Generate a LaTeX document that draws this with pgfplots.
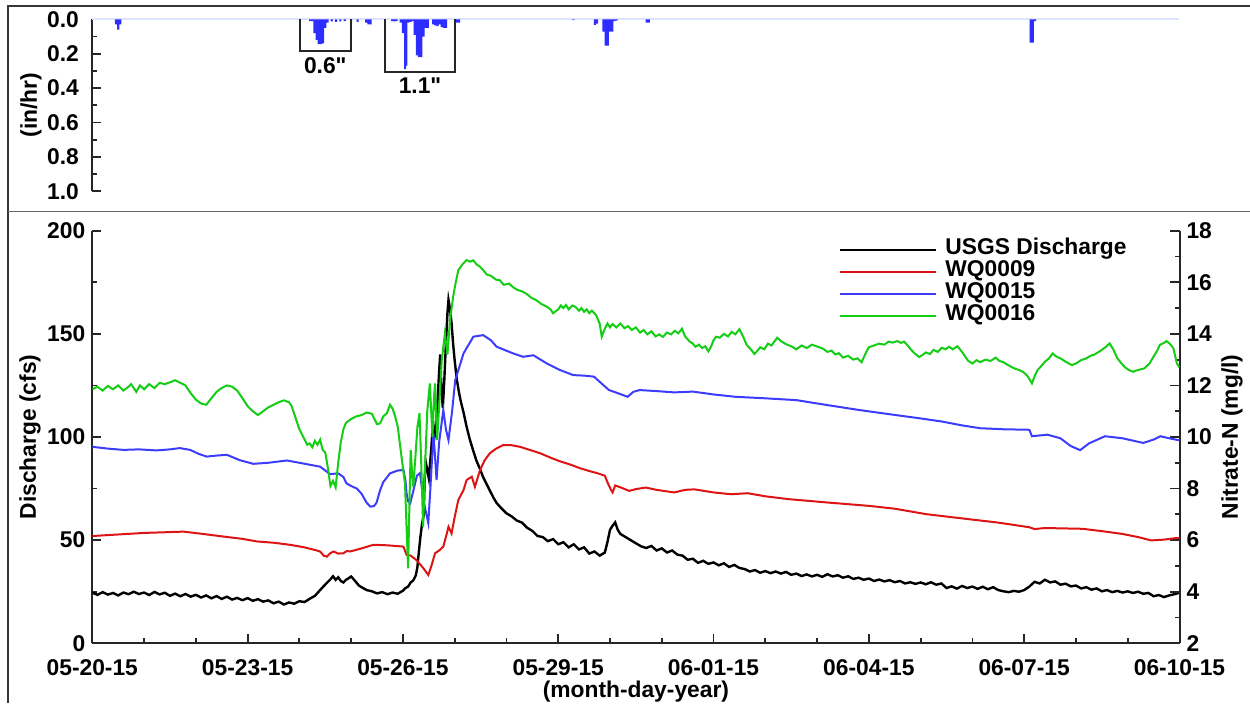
\documentclass[border=0pt]{standalone}
\usepackage{fontspec}
\setmainfont{Liberation Sans}
\newfontfamily\qf{Liberation Sans}[Ligatures=TeXOff]
\usepackage{pgfplots}
\pgfplotsset{compat=1.18}

\definecolor{nred}{RGB}{222,20,20}
\definecolor{nblue}{RGB}{60,60,255}
\definecolor{ngreen}{RGB}{20,205,20}
\definecolor{rainblue}{RGB}{45,45,255}
\definecolor{zeroline}{RGB}{222,228,255}
\definecolor{framegray}{RGB}{55,55,55}
\definecolor{sepgray}{RGB}{105,105,105}

\newcommand\lf{\fontsize{11.4}{13.7}\selectfont\bfseries}

\pgfplotsset{
  base/.style={
    scale only axis, width=543.6pt, xmin=0, xmax=21,
    tick align=inside, major tick length=4.5pt, minor tick length=2.5pt,
    every tick/.style={line width=0.9pt, color=black!85},
    axis line style={line width=1pt, color=black!85},
    tick label style={font=\lf},
    label style={font=\lf},
    /pgf/number format/assume math mode=true,
  }
}

\begin{document}
\begin{tikzpicture}
\useasboundingbox (0,0) rectangle (625pt,351.5pt);
% page frame and panel separator
\draw[framegray, line width=1pt] (3.85pt,0pt) -- (3.85pt,348.5pt) -- (625pt,348.5pt);
\draw[sepgray, line width=0.8pt] (3.85pt,245.65pt) -- (625pt,245.65pt);

% ---------------- rainfall panel ----------------
\begin{axis}[base, at={(46.15pt,255.85pt)}, anchor=south west, height=86pt,
  ymin=0, ymax=1, y dir=reverse, ytick={0,0.2,...,1.0}, minor y tick num=1,
  yticklabel style={/pgf/number format/fixed, /pgf/number format/fixed zerofill,
    /pgf/number format/precision=1, xshift=-3.2pt},
  axis x line=none, axis y line*=left,
  ylabel={(in/hr)},
  ylabel style={at={(axis description cs:-0.0564,0.5)}, anchor=center},
  clip=false]
\addplot[zeroline, line width=1pt] coordinates {(0,0) (21,0)};
\addplot[ybar, bar width=0.0417, bar shift=0pt, fill=rainblue, draw=none] coordinates {
 (0.458,0.03) (0.500,0.06) (0.542,0.03)
 (4.208,0.01) (4.250,0.01) (4.292,0.08) (4.333,0.12) (4.375,0.144) (4.417,0.144)
 (4.458,0.14) (4.500,0.05) (4.542,0.02) (4.625,0.012) (4.708,0.015) (4.792,0.012)
 (4.875,0.01) (5.000,0.01) (5.125,0.015) (5.292,0.02) (5.333,0.03) (5.375,0.03)
 (5.792,0.01) (5.833,0.012) (5.875,0.01) (5.958,0.02) (6.000,0.08) (6.042,0.29)
 (6.063,0.27) (6.104,0.02) (6.146,0.015) (6.188,0.01) (6.229,0.09) (6.271,0.21)
 (6.313,0.22) (6.354,0.22) (6.396,0.10) (6.438,0.05) (6.479,0.05) (6.583,0.03)
 (6.625,0.035) (6.667,0.04) (6.708,0.03) (6.750,0.045) (6.792,0.05) (6.833,0.05)
 (7.042,0.02) (7.083,0.02)
 (9.292,0.005) (9.708,0.033) (9.750,0.025) (9.875,0.072) (9.917,0.153) (9.958,0.153)
 (10.000,0.072) (10.042,0.072) (10.083,0.01) (10.125,0.008) (10.708,0.02) (10.750,0.02)
 (18.125,0.135) (18.167,0.135) (18.208,0.01)
};
\draw[black!85, line width=1pt] (axis cs:4.01,0) |- (axis cs:4.99,0.183) -- (axis cs:4.99,0);
\draw[black!85, line width=1pt] (axis cs:5.655,0) |- (axis cs:7.0,0.305) -- (axis cs:7.0,0);
\node[font=\lf\qf] at (axis cs:4.5,0.268) {0.6"};
\node[font=\lf\qf] at (axis cs:6.33,0.385) {1.1"};
\end{axis}

% ---------------- discharge (left axis) ----------------
\begin{axis}[base, at={(46.15pt,29.85pt)}, anchor=south west, height=206.3pt,
  ymin=0, ymax=200, ytick={0,50,...,200}, minor y tick num=1,
  xtick={0,3,...,21},
  xticklabels={05-20-15,05-23-15,05-26-15,05-29-15,06-01-15,06-04-15,06-07-15,06-10-15},
  minor x tick num=2,
  xticklabel style={yshift=-4.5pt},
  axis x line*=bottom, axis y line*=left,
  xlabel={(month-day-year)}, ylabel={Discharge (cfs)},
  xlabel style={at={(axis description cs:0.5,-0.118)}, anchor=center},
  ylabel style={at={(axis description cs:-0.0573,0.5)}, anchor=center}]
\addplot[black, line width=1.2pt] coordinates {
 (0.0,24.5) (0.1,23.5) (0.2,24.8) (0.3,23.6) (0.4,24.4) (0.5,23.2) (0.6,24.6) (0.7,23.8)
 (0.8,25.0) (0.9,23.9) (1.0,24.6) (1.1,23.4) (1.2,24.9) (1.3,23.7) (1.4,24.5) (1.5,23.0)
 (1.6,24.1) (1.7,22.8) (1.8,23.9) (1.9,22.6) (2.0,23.5) (2.1,22.2) (2.2,23.2) (2.3,21.8)
 (2.4,22.9) (2.5,21.5) (2.6,22.6) (2.7,21.2) (2.8,22.0) (2.9,20.9) (3.0,21.9) (3.1,20.6)
 (3.2,21.4) (3.3,20.2) (3.4,20.8) (3.5,19.4) (3.6,20.2) (3.7,18.8) (3.8,19.8) (3.9,19.2)
 (4.0,20.4) (4.1,20.0) (4.2,21.6) (4.3,23.0) (4.4,25.8) (4.5,28.5) (4.6,31.0) (4.65,32.5)
 (4.7,30.8) (4.75,32.0) (4.8,30.2) (4.85,29.5) (4.9,30.8) (4.95,31.5) (5.0,32.4) (5.05,31.0)
 (5.1,29.5) (5.15,28.0) (5.2,27.2) (5.3,25.8) (5.4,25.2) (5.5,24.2) (5.6,24.8) (5.7,23.8)
 (5.8,24.6) (5.9,24.0) (6.0,25.5) (6.05,26.8) (6.1,27.5) (6.15,29.5) (6.2,30.5) (6.25,33.0)
 (6.28,37.0) (6.31,45.0) (6.34,52.0) (6.37,58.0) (6.40,62.0) (6.42,80.0) (6.44,88.0)
 (6.47,84.0) (6.50,80.0) (6.52,86.0) (6.55,95.0) (6.58,108.0) (6.61,100.0) (6.64,104.0)
 (6.67,118.0) (6.70,132.0) (6.72,140.0) (6.74,126.0) (6.77,114.0) (6.80,128.0) (6.83,145.0)
 (6.86,160.0) (6.88,166.5) (6.91,162.0) (6.94,155.0) (6.97,145.0) (7.00,137.0) (7.04,128.0)
 (7.08,122.0) (7.12,117.0) (7.17,112.0) (7.23,105.0) (7.29,99.0) (7.35,94.0) (7.42,88.5)
 (7.48,85.0) (7.55,80.5) (7.62,77.0) (7.68,74.0) (7.75,70.5) (7.81,68.0) (7.9,65.5)
 (8.0,63.0) (8.1,61.5) (8.2,59.5) (8.3,58.5) (8.4,56.0) (8.5,54.5) (8.6,52.0) (8.7,51.5)
 (8.8,49.5) (8.9,50.5) (9.0,48.0) (9.1,49.0) (9.2,46.5) (9.3,48.0) (9.4,45.5) (9.5,46.5)
 (9.6,43.5) (9.7,44.5) (9.8,42.5) (9.9,44.0) (9.95,49.0) (10.0,55.0) (10.05,57.0)
 (10.1,58.6) (10.15,55.0) (10.2,53.0) (10.3,51.5) (10.4,50.0) (10.5,48.5) (10.6,47.0)
 (10.7,46.2) (10.8,47.2) (10.9,45.0) (11.0,46.0) (11.1,44.0) (11.2,45.0) (11.3,43.0)
 (11.4,42.5) (11.5,40.5) (11.6,41.0) (11.7,39.0) (11.8,40.0) (11.9,38.5) (12.0,39.2)
 (12.1,37.8) (12.2,38.8) (12.3,37.0) (12.4,38.0) (12.5,36.5) (12.6,36.0) (12.7,34.8)
 (12.8,35.5) (12.9,34.2) (13.0,35.0) (13.1,34.0) (13.2,34.8) (13.3,33.8) (13.4,34.6)
 (13.5,33.2) (13.6,33.8) (13.7,32.6) (13.8,33.4) (13.9,32.4) (14.0,33.2) (14.1,32.2)
 (14.2,33.5) (14.3,32.4) (14.4,33.0) (14.5,31.8) (14.6,32.5) (14.7,31.2) (14.8,31.8)
 (14.9,30.8) (15.0,31.4) (15.1,30.2) (15.2,30.9) (15.3,30.0) (15.4,30.6) (15.5,29.6)
 (15.6,30.2) (15.7,29.0) (15.8,29.6) (15.9,28.8) (16.0,29.5) (16.1,28.6) (16.2,29.6)
 (16.3,28.4) (16.4,29.0) (16.5,26.8) (16.6,27.6) (16.7,26.5) (16.8,27.8) (16.9,26.8)
 (17.0,27.5) (17.1,26.4) (17.2,27.4) (17.3,26.2) (17.4,27.2) (17.5,25.8) (17.6,25.2)
 (17.7,24.8) (17.8,25.4) (17.9,25.0) (18.0,25.8) (18.1,27.5) (18.2,29.8) (18.3,29.0)
 (18.4,30.8) (18.5,29.5) (18.6,30.0) (18.7,28.4) (18.8,28.9) (18.9,27.6) (19.0,28.0)
 (19.1,26.6) (19.2,27.2) (19.3,26.0) (19.4,26.6) (19.5,25.2) (19.6,25.8) (19.7,24.8)
 (19.8,25.4) (19.9,24.6) (20.0,25.2) (20.1,24.4) (20.2,25.0) (20.3,24.0) (20.4,24.4)
 (20.5,22.8) (20.6,23.4) (20.7,22.4) (20.8,23.2) (20.9,23.8) (21.0,24.5)
};
\end{axis}

% ---------------- nitrate (right axis) ----------------
\begin{axis}[base, at={(46.15pt,29.85pt)}, anchor=south west, height=206.3pt,
  ymin=2, ymax=18, ytick={2,4,...,18}, minor y tick num=1,
  axis x line=none, axis y line*=right,
  ylabel={Nitrate-N (mg/l)},
  ylabel style={at={(axis description cs:1.0483,0.5)}, anchor=center},
  legend cell align=left,
  legend image code/.code={\draw[#1] (0pt,0pt) -- (48pt,0pt); \path (52pt,0pt);},
  legend style={at={(axis description cs:0.6868,0.982)}, anchor=north west,
    draw=none, fill=none, inner sep=0pt, font=\lf,
    nodes={inner sep=0pt, text height=8.2pt, text depth=2.8pt},
    /tikz/every even column/.append style={column sep=6pt}}]
\addlegendimage{black, line width=1pt}
\addlegendentry{USGS Discharge}
\addplot[nred, line width=1pt] coordinates {
 (0.0,6.16) (0.5,6.22) (1.0,6.28) (1.76,6.33) (2.1,6.25) (2.53,6.14) (2.9,6.05) (3.18,5.95)
 (3.5,5.9) (3.82,5.82) (4.1,5.72) (4.3,5.62) (4.40,5.56) (4.47,5.4) (4.53,5.36) (4.6,5.5)
 (4.66,5.56) (4.75,5.48) (4.85,5.49) (4.92,5.58) (4.98,5.56) (5.2,5.68) (5.43,5.82)
 (5.7,5.8) (6.01,5.75) (6.07,5.43) (6.15,5.4) (6.26,5.23) (6.38,4.95) (6.49,4.65)
 (6.55,5.0) (6.62,5.49) (6.7,5.6) (6.78,5.75) (6.84,6.2) (6.88,6.52) (6.94,6.26) (7.0,6.9)
 (7.07,7.56) (7.17,7.94) (7.23,8.33) (7.33,8.46) (7.39,8.07) (7.49,8.72) (7.58,9.1)
 (7.68,9.37) (7.8,9.55) (7.94,9.69) (8.1,9.68) (8.26,9.62) (8.45,9.5) (8.65,9.37)
 (8.85,9.2) (9.03,9.06) (9.25,8.92) (9.42,8.79) (9.6,8.68) (9.75,8.6) (9.9,8.5)
 (9.96,8.2) (10.02,7.95) (10.05,7.85) (10.1,8.12) (10.2,8.05) (10.37,7.91) (10.5,7.98)
 (10.69,8.04) (10.9,7.95) (11.24,7.85) (11.45,7.95) (11.63,7.97) (12.0,7.85) (12.34,7.78)
 (12.66,7.82) (13.0,7.7) (13.45,7.59) (14.2,7.46) (15.0,7.33) (15.5,7.22) (16.1,7.01)
 (16.9,6.82) (17.5,6.68) (18.1,6.5) (18.2,6.43) (18.4,6.47) (19.13,6.44) (19.5,6.35)
 (19.9,6.24) (20.2,6.12) (20.45,5.99) (20.7,6.02) (20.93,6.08) (21.0,6.08)
};
\addlegendentry{WQ0009}
\addplot[nblue, line width=1pt] coordinates {
 (0.0,9.62) (0.3,9.55) (0.6,9.5) (0.9,9.52) (1.24,9.48) (1.5,9.52) (1.69,9.57) (1.89,9.5)
 (2.05,9.35) (2.21,9.24) (2.4,9.28) (2.6,9.31) (2.85,9.1) (3.11,8.96) (3.4,9.0) (3.6,9.05)
 (3.76,9.09) (4.0,9.0) (4.21,8.92) (4.40,8.85) (4.5,8.7) (4.59,8.56) (4.75,8.59) (4.85,8.45)
 (4.91,8.2) (5.0,8.1) (5.11,8.0) (5.2,7.8) (5.3,7.45) (5.37,7.3) (5.44,7.32) (5.49,7.45)
 (5.56,7.94) (5.62,8.25) (5.75,8.59) (5.9,8.7) (6.01,8.72) (6.05,8.3) (6.07,7.82) (6.10,7.5)
 (6.14,7.43) (6.2,7.9) (6.27,8.5) (6.33,8.6) (6.40,7.5) (6.49,6.66) (6.53,8.0) (6.59,10.14)
 (6.65,8.33) (6.70,9.8) (6.78,11.05) (6.83,10.3) (6.88,9.88) (6.95,11.0) (7.01,12.2)
 (7.17,13.24) (7.36,13.89) (7.55,13.95) (7.7,13.75) (7.81,13.5) (8.13,13.24) (8.32,13.11)
 (8.52,13.17) (8.78,12.85) (9.03,12.6) (9.29,12.4) (9.5,12.38) (9.69,12.34) (9.85,12.05)
 (9.98,11.82) (10.15,11.7) (10.34,11.56) (10.45,11.75) (10.57,11.82) (10.9,11.78)
 (11.24,11.73) (11.6,11.76) (12.0,11.65) (12.42,11.56) (13.0,11.5) (13.6,11.43)
 (14.19,11.24) (14.8,11.05) (15.52,10.85) (16.0,10.72) (16.41,10.6) (16.8,10.45)
 (17.15,10.34) (17.6,10.3) (18.1,10.28) (18.15,10.03) (18.3,10.06) (18.45,10.09)
 (18.7,9.95) (18.9,9.65) (19.08,9.49) (19.25,9.75) (19.56,10.03) (19.9,9.95) (20.3,9.77)
 (20.5,9.9) (20.63,10.03) (20.8,9.95) (21.0,9.87)
};
\addlegendentry{WQ0015}
\addplot[ngreen, line width=1pt] coordinates {
 (0.0,11.85) (0.1,11.95) (0.2,11.8) (0.3,11.98) (0.4,11.85) (0.5,12.0) (0.6,11.8)
 (0.7,11.95) (0.75,12.05) (0.85,11.75) (0.92,12.0) (1.0,11.85) (1.1,12.05) (1.2,11.9)
 (1.3,12.1) (1.4,12.05) (1.5,12.12) (1.6,12.2) (1.7,12.1) (1.8,12.0) (1.9,11.7) (2.0,11.45)
 (2.1,11.3) (2.2,11.25) (2.3,11.5) (2.4,11.75) (2.5,11.9) (2.6,12.0) (2.7,11.95) (2.8,11.8)
 (2.9,11.5) (3.0,11.2) (3.1,11.0) (3.2,10.85) (3.3,11.0) (3.4,11.15) (3.5,11.25)
 (3.6,11.35) (3.7,11.42) (3.8,11.35) (3.85,11.2) (3.9,10.9) (4.0,10.3) (4.05,10.1)
 (4.1,9.9) (4.15,9.7) (4.2,9.75) (4.25,9.6) (4.3,9.85) (4.35,9.7) (4.4,9.9) (4.45,9.5)
 (4.5,9.4) (4.55,8.8) (4.6,8.1) (4.65,8.3) (4.7,8.05) (4.75,9.0) (4.8,9.8) (4.85,10.3)
 (4.9,10.55) (5.0,10.7) (5.1,10.8) (5.2,10.85) (5.3,10.95) (5.4,10.9) (5.45,10.7)
 (5.5,10.5) (5.56,10.53) (5.62,10.8) (5.69,10.92) (5.75,11.25) (5.8,11.1) (5.85,10.8)
 (5.9,10.4) (5.95,9.6) (6.0,8.8) (6.04,8.2) (6.07,6.5) (6.10,4.91) (6.13,7.8) (6.15,9.5)
 (6.18,8.5) (6.20,8.07) (6.24,9.2) (6.28,10.4) (6.32,10.92) (6.35,9.2) (6.39,6.52)
 (6.43,9.0) (6.47,11.0) (6.52,12.08) (6.57,10.0) (6.60,11.5) (6.62,12.08) (6.66,9.88)
 (6.70,11.2) (6.75,12.98) (6.81,14.0) (6.86,13.2) (6.91,14.54) (6.97,15.44) (7.02,16.0)
 (7.07,16.47) (7.15,16.7) (7.23,16.86) (7.3,16.8) (7.36,16.85) (7.42,16.7) (7.49,16.6)
 (7.56,16.45) (7.62,16.3) (7.7,16.25) (7.8,16.1) (7.87,16.08) (7.95,15.9) (8.05,15.95)
 (8.13,15.8) (8.22,15.7) (8.3,15.65) (8.39,15.55) (8.48,15.4) (8.58,15.3) (8.68,15.15)
 (8.78,15.05) (8.85,14.95) (8.9,14.8)
 (9.0,14.95) (9.05,15.1) (9.1,15.0) (9.15,15.12) (9.2,14.95) (9.27,15.1) (9.33,15.05)
 (9.4,14.9) (9.45,15.0) (9.5,14.85) (9.55,14.95) (9.6,14.8) (9.65,14.9) (9.73,14.73)
 (9.8,14.4) (9.84,13.89) (9.9,14.2) (9.95,14.4) (10.0,14.25) (10.05,14.38) (10.12,14.25)
 (10.2,14.4) (10.28,14.22) (10.35,14.3) (10.42,14.15) (10.5,14.25) (10.58,14.05)
 (10.65,14.15) (10.72,13.98) (10.8,14.1) (10.88,13.9) (10.95,13.98) (11.02,13.88)
 (11.1,14.05) (11.18,13.98) (11.25,14.12) (11.32,14.02) (11.39,14.2) (11.45,13.9)
 (11.54,13.7) (11.6,13.62) (11.65,13.5) (11.72,13.58) (11.78,13.45) (11.84,13.52)
 (11.9,13.32) (11.95,13.5) (12.0,13.75) (12.05,13.89) (12.12,13.85) (12.2,14.0)
 (12.28,13.9) (12.35,14.08) (12.42,13.98) (12.5,14.18) (12.57,13.9) (12.64,13.57)
 (12.72,13.4) (12.79,13.22) (12.85,13.35) (12.9,13.48) (12.98,13.4) (13.05,13.62)
 (13.12,13.55) (13.23,13.85) (13.3,13.72) (13.4,13.6) (13.5,13.52) (13.6,13.4)
 (13.7,13.55) (13.8,13.45) (13.9,13.58) (14.04,13.48) (14.12,13.42) (14.2,13.3)
 (14.28,13.35) (14.35,13.2) (14.42,13.25) (14.5,13.08) (14.6,13.15) (14.7,13.0)
 (14.78,13.05) (14.86,12.9) (14.95,13.3) (15.0,13.48) (15.1,13.55) (15.2,13.62)
 (15.3,13.58) (15.38,13.7) (15.46,13.66) (15.55,13.72) (15.62,13.65) (15.68,13.7)
 (15.75,13.55) (15.8,13.42) (15.88,13.25) (15.97,13.1) (16.05,13.2) (16.1,13.28)
 (16.18,13.22) (16.25,13.38) (16.33,13.3) (16.41,13.46) (16.48,13.4) (16.55,13.5)
 (16.62,13.4) (16.71,13.52) (16.78,13.35) (16.85,13.15) (16.92,12.95) (17.0,12.85)
 (17.08,12.98) (17.15,12.9) (17.25,13.0) (17.35,12.95) (17.45,13.08) (17.52,12.95)
 (17.6,12.9) (17.68,12.8) (17.75,12.72) (17.82,12.65) (17.9,12.6) (17.98,12.52)
 (18.05,12.4) (18.1,12.25) (18.15,12.08) (18.2,12.35) (18.26,12.6) (18.33,12.75)
 (18.4,12.92) (18.48,13.05) (18.55,13.24) (18.62,13.12) (18.7,13.05) (18.8,12.92)
 (18.92,12.79) (19.0,12.85) (19.1,12.98) (19.2,13.05) (19.28,13.15) (19.36,13.2)
 (19.44,13.3) (19.5,13.38) (19.58,13.5) (19.65,13.63) (19.72,13.4) (19.8,13.05)
 (19.88,12.85) (19.95,12.7) (20.02,12.6) (20.1,12.53) (20.2,12.6) (20.32,12.66)
 (20.42,12.85) (20.5,13.12) (20.57,13.35) (20.62,13.57) (20.7,13.65) (20.75,13.72)
 (20.82,13.6) (20.88,13.45) (20.95,12.85) (21.0,12.7)
};
\addlegendentry{WQ0016}
\end{axis}
\end{tikzpicture}
\end{document}
